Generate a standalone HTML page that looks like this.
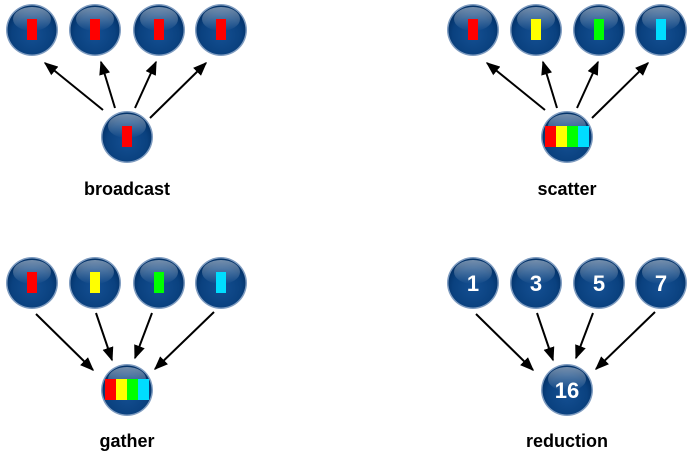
<!DOCTYPE html>
<html><head><style>body{margin:0;background:#fff}</style></head><body>
<svg width="695" height="458" xmlns="http://www.w3.org/2000/svg" font-family="Liberation Sans, sans-serif">
<defs>
<radialGradient id="g" cx="0.5" cy="0.6" r="0.55">
<stop offset="0" stop-color="#144f92"/><stop offset="0.75" stop-color="#0a417f"/><stop offset="1" stop-color="#03336a"/>
</radialGradient>
<linearGradient id="h" x1="0" y1="0" x2="0" y2="1">
<stop offset="0" stop-color="#fff" stop-opacity="0.45"/><stop offset="1" stop-color="#fff" stop-opacity="0"/>
</linearGradient>
<g id="c"><circle r="26" fill="#7f9cc0"/><circle r="24.5" fill="url(#g)"/><ellipse cx="0" cy="-11" rx="19" ry="12" fill="url(#h)"/></g>
<marker id="a" viewBox="0 0 10 10" refX="9" refY="5" markerWidth="7" markerHeight="7" orient="auto"><path d="M0,1 L10,5 L0,9 Z" fill="#000"/></marker>
</defs>
<g stroke="#000" stroke-width="2" marker-end="url(#a)">
<line x1="103" y1="110" x2="45" y2="63"/><line x1="115" y1="108" x2="101" y2="62"/>
<line x1="135" y1="108" x2="156" y2="62"/><line x1="150" y1="118" x2="206" y2="63"/>
<line x1="545" y1="110" x2="487" y2="63"/><line x1="557" y1="108" x2="543" y2="62"/>
<line x1="577" y1="108" x2="598" y2="62"/><line x1="592" y1="118" x2="648" y2="63"/>
<line x1="36" y1="314" x2="93" y2="370"/><line x1="96" y1="313" x2="112" y2="360"/>
<line x1="152" y1="313" x2="135" y2="358"/><line x1="214" y1="312" x2="155" y2="369"/>
<line x1="476" y1="314" x2="533" y2="370"/><line x1="537" y1="313" x2="553" y2="360"/>
<line x1="593" y1="313" x2="576" y2="358"/><line x1="655" y1="312" x2="596" y2="369"/>
</g>
<g>
<use href="#c" x="32" y="30"/><use href="#c" x="95" y="30"/><use href="#c" x="159" y="30"/><use href="#c" x="221" y="30"/><use href="#c" x="127" y="137"/>
<use href="#c" x="473" y="30"/><use href="#c" x="536" y="30"/><use href="#c" x="599" y="30"/><use href="#c" x="661" y="30"/><use href="#c" x="567" y="137"/>
<use href="#c" x="32" y="283"/><use href="#c" x="95" y="283"/><use href="#c" x="159" y="283"/><use href="#c" x="221" y="283"/><use href="#c" x="127" y="390"/>
<use href="#c" x="473" y="283"/><use href="#c" x="536" y="283"/><use href="#c" x="599" y="283"/><use href="#c" x="661" y="283"/><use href="#c" x="567" y="390"/>
</g>
<g fill="red">
<rect x="27" y="19" width="10" height="21"/><rect x="90" y="19" width="10" height="21"/><rect x="154" y="19" width="10" height="21"/><rect x="216" y="19" width="10" height="21"/><rect x="122" y="126" width="10" height="21"/>
<rect x="468" y="19" width="10" height="21"/><rect x="27" y="272" width="10" height="21"/>
</g>
<rect x="531" y="19" width="10" height="21" fill="#ff0"/><rect x="594" y="19" width="10" height="21" fill="#0f0"/><rect x="656" y="19" width="10" height="21" fill="#0df"/>
<rect x="90" y="272" width="10" height="21" fill="#ff0"/><rect x="154" y="272" width="10" height="21" fill="#0f0"/><rect x="216" y="272" width="10" height="21" fill="#0df"/>
<rect x="545" y="126" width="11" height="21" fill="red"/><rect x="556" y="126" width="11" height="21" fill="#ff0"/><rect x="567" y="126" width="11" height="21" fill="#0f0"/><rect x="578" y="126" width="11" height="21" fill="#0df"/>
<rect x="105" y="379" width="11" height="21" fill="red"/><rect x="116" y="379" width="11" height="21" fill="#ff0"/><rect x="127" y="379" width="11" height="21" fill="#0f0"/><rect x="138" y="379" width="11" height="21" fill="#0df"/>
<g fill="#fff" font-weight="bold" font-size="22" text-anchor="middle">
<text x="473" y="291">1</text><text x="536" y="291">3</text><text x="599" y="291">5</text><text x="661" y="291">7</text><text x="567" y="398">16</text>
</g>
<g font-weight="bold" font-size="18" text-anchor="middle" fill="#000">
<text x="127" y="195">broadcast</text><text x="567" y="195">scatter</text><text x="127" y="447">gather</text><text x="567" y="447">reduction</text>
</g>
</svg>
</body></html>
